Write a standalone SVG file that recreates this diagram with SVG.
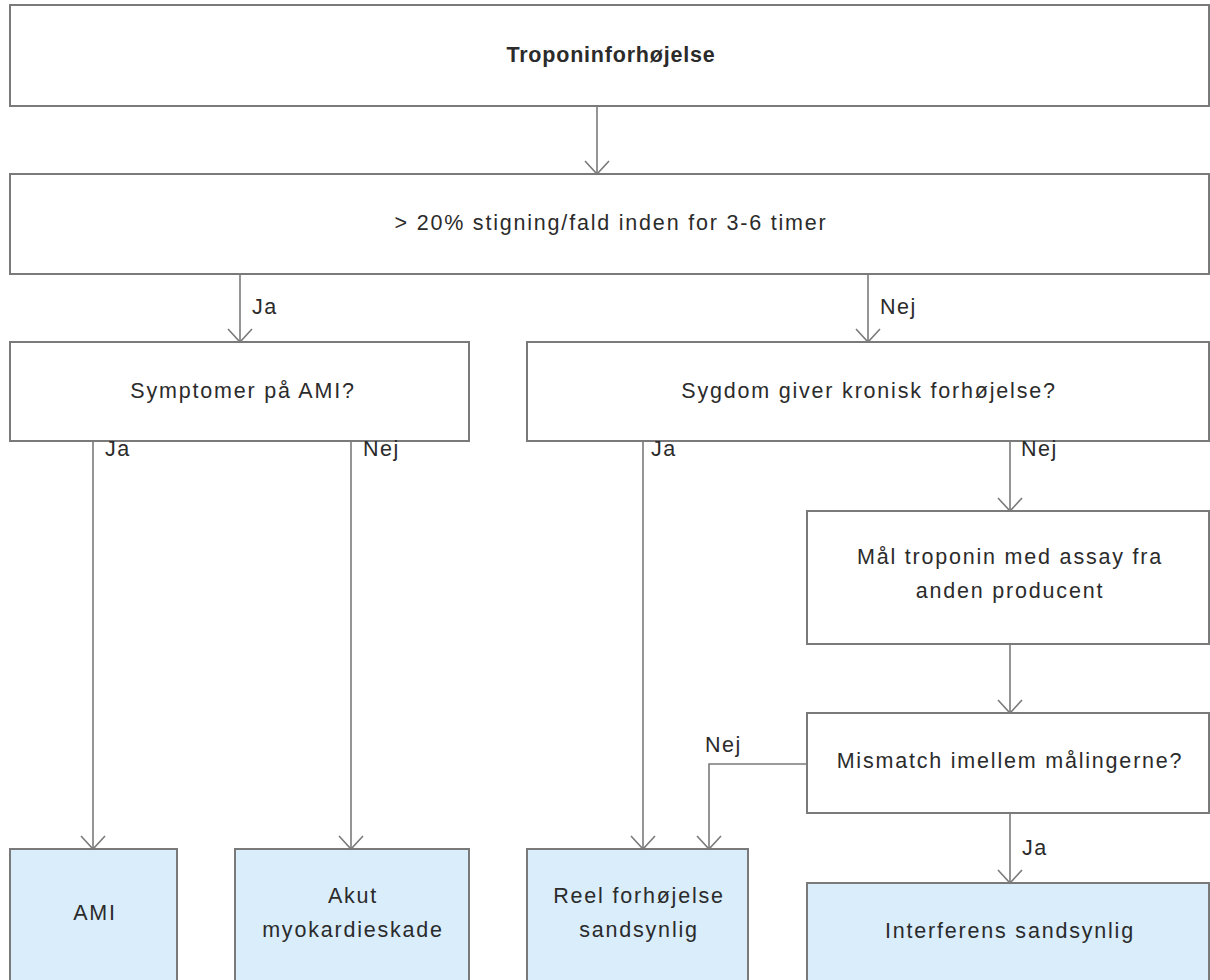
<svg xmlns="http://www.w3.org/2000/svg" width="1210" height="980" viewBox="0 0 1210 980">
<style>
.box{fill:#fff;stroke:#7a7a7a;stroke-width:2}
.end{fill:#d9edfb;stroke:#7a7a7a;stroke-width:2}
.t{font-family:"Liberation Sans",Arial,sans-serif;font-size:21.5px;letter-spacing:1.8px;fill:#2b2b2b;text-anchor:middle}
.b{font-weight:bold;letter-spacing:0.8px}
.lbl{font-family:"Liberation Sans",Arial,sans-serif;font-size:21.5px;letter-spacing:1.5px;fill:#2b2b2b}
.c{fill:none;stroke:#7a7a7a;stroke-width:1.6}
</style>
<defs>
<marker id="ah" markerWidth="28" markerHeight="20" refX="14" refY="16" orient="0" markerUnits="userSpaceOnUse" viewBox="0 0 28 20">
<path d="M2 3 L14 16 L26 3" fill="none" stroke="#7a7a7a" stroke-width="1.6"/>
</marker>
</defs>
<g id="n1"><rect class="box" x="10" y="5" width="1199" height="101"/><text class="t b" x="611" y="62">Troponinforhøjelse</text></g>
<g id="n2"><rect class="box" x="10" y="174" width="1199" height="100"/><text class="t" x="611" y="230">&gt; 20% stigning/fald inden for 3-6 timer</text></g>
<g id="n3"><rect class="box" x="10" y="342" width="459" height="99"/><text class="t" x="243" y="398">Symptomer på AMI?</text></g>
<g id="n4"><rect class="box" x="527" y="342" width="682" height="99"/><text class="t" x="869" y="398">Sygdom giver kronisk forhøjelse?</text></g>
<g id="n5"><rect class="box" x="807" y="511" width="402" height="133"/><text class="t" x="1010" y="564">Mål troponin med assay fra</text><text class="t" x="1010" y="598">anden producent</text></g>
<g id="n6"><rect class="box" x="807" y="713" width="402" height="100"/><text class="t" x="1010" y="768">Mismatch imellem målingerne?</text></g>
<g id="n7"><rect class="end" x="10" y="849" width="167" height="140"/><text class="t" x="95" y="920">AMI</text></g>
<g id="n8"><rect class="end" x="235" y="849" width="234" height="140"/><text class="t" x="353" y="903">Akut</text><text class="t" x="353" y="937">myokardieskade</text></g>
<g id="n9"><rect class="end" x="527" y="849" width="221" height="140"/><text class="t" x="639" y="903">Reel forhøjelse</text><text class="t" x="639" y="937">sandsynlig</text></g>
<g id="n10"><rect class="end" x="807" y="883" width="402" height="110"/><text class="t" x="1010" y="938">Interferens sandsynlig</text></g>
<g id="connectors">
<path class="c" d="M597 106 V174" marker-end="url(#ah)"/>
<path class="c" d="M240 274 V342" marker-end="url(#ah)"/>
<path class="c" d="M868 274 V342" marker-end="url(#ah)"/>
<path class="c" d="M93 441 V849" marker-end="url(#ah)"/>
<path class="c" d="M351 441 V849" marker-end="url(#ah)"/>
<path class="c" d="M643 441 V849" marker-end="url(#ah)"/>
<path class="c" d="M1010 441 V511" marker-end="url(#ah)"/>
<path class="c" d="M1010 644 V713" marker-end="url(#ah)"/>
<path class="c" d="M807 764 H709 V849" marker-end="url(#ah)"/>
<path class="c" d="M1010 813 V883" marker-end="url(#ah)"/>
<text class="lbl" x="252" y="314">Ja</text>
<text class="lbl" x="880" y="314">Nej</text>
<text class="lbl" x="105" y="456">Ja</text>
<text class="lbl" x="363" y="456">Nej</text>
<text class="lbl" x="651" y="456">Ja</text>
<text class="lbl" x="1021" y="456">Nej</text>
<text class="lbl" x="705" y="752">Nej</text>
<text class="lbl" x="1022" y="855">Ja</text>
</g>
</svg>
